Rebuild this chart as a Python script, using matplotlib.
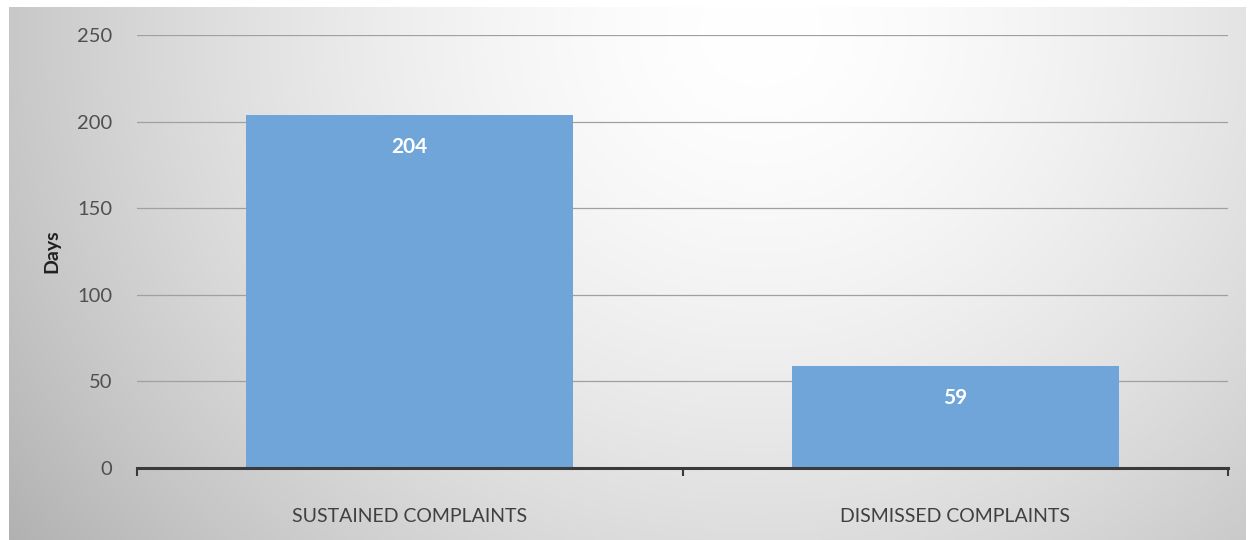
import matplotlib
matplotlib.use("Agg")
import matplotlib.pyplot as plt
import numpy as np

categories = ["SUSTAINED COMPLAINTS", "DISMISSED COMPLAINTS"]
days = [204, 59]
y_ticks = [0, 50, 100, 150, 200, 250]

plt.rcParams['font.family'] = ['Lato', 'DejaVu Sans']

fig = plt.figure(figsize=(12.55, 5.4), dpi=100)

# radial grey background like the Excel chart area
bg = fig.add_axes([0, 0, 1, 1], zorder=-10)
W, H = 1255, 540
xx, yy = np.meshgrid(np.arange(W), np.arange(H))
r = np.sqrt(((xx - 760) / 760.0) ** 2 + ((yy - 30) / 700.0) ** 2)
shade = 1.0 - 0.22 * np.clip(r, 0, 1.25) ** 1.6
img = np.dstack([shade] * 3)
# white margin round the chart area
img[:7, :] = 1.0
img[:, :9] = 1.0
img[:, 1246:] = 1.0
bg.imshow(img, aspect='auto', interpolation='bilinear')
bg.axis('off')

ax = fig.add_axes([0.1092, 0.1333, 0.8693, 0.8019])
ax.set_facecolor('none')

x = np.arange(len(categories))
bars = ax.bar(x, days, width=0.6, color='#6fa5d9', zorder=2)

for b, v in zip(bars, days):
    ax.annotate(str(v), (b.get_x() + b.get_width() / 2, v),
                xytext=(0, -23), textcoords='offset points',
                ha='center', va='center', color='white',
                fontsize=15, fontweight='bold')

ax.set_xlim(-0.5, 1.5)
ax.set_ylim(0, 250)
ax.set_yticks(y_ticks)
ax.yaxis.grid(True, color='#a0a0a0', linewidth=0.9, zorder=0)
ax.set_axisbelow(True)

for side in ['top', 'right', 'left']:
    ax.spines[side].set_visible(False)
ax.spines['bottom'].set_color('#3a3a3a')
ax.spines['bottom'].set_linewidth(2.2)

ax.set_xticks([-0.5, 0.5, 1.5])
ax.set_xticklabels([])
ax.tick_params(axis='x', length=6, width=1.5, color='#3a3a3a', direction='out')
ax.set_xticks(x, minor=True)
ax.set_xticklabels(categories, minor=True, fontsize=14, color='#404040')
ax.tick_params(axis='x', which='minor', length=0, pad=29)

ax.tick_params(axis='y', length=0, labelsize=14.5, labelcolor='#505050', pad=18)
ax.set_ylabel('Days', fontsize=14, fontweight='bold', color='#202020', labelpad=12)

fig.savefig('out.png', dpi=100)
